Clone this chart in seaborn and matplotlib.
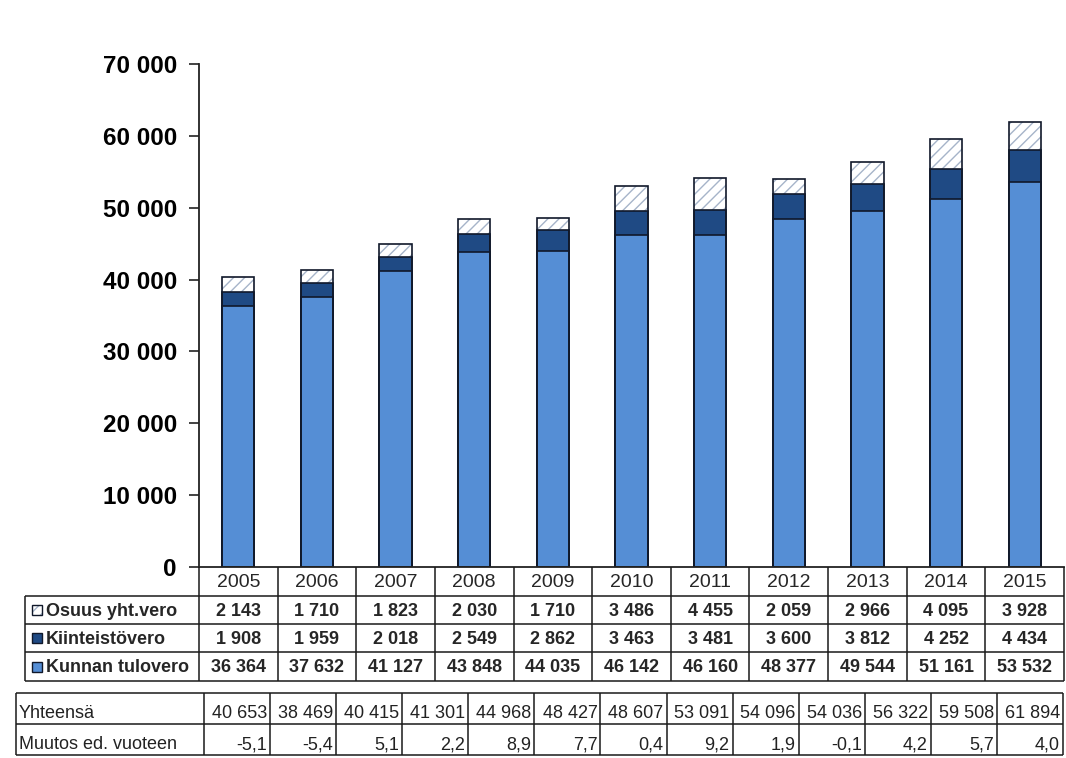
import numpy as np
import pandas as pd
import seaborn as sns
import matplotlib
matplotlib.use("Agg")
import matplotlib.pyplot as plt
from matplotlib.patches import Rectangle

# ---------------- data ----------------
years = ['2005', '2006', '2007', '2008', '2009', '2010', '2011', '2012', '2013', '2014', '2015']
osuus = [2143, 1710, 1823, 2030, 1710, 3486, 4455, 2059, 2966, 4095, 3928]
kiinteisto = [1908, 1959, 2018, 2549, 2862, 3463, 3481, 3600, 3812, 4252, 4434]
kunnan = [36364, 37632, 41127, 43848, 44035, 46142, 46160, 48377, 49544, 51161, 53532]
series_labels = ['Osuus yht.vero', 'Kiinteistövero', 'Kunnan tulovero']

yhteensa = [40653, 38469, 40415, 41301, 44968, 48427, 48607, 53091, 54096, 54036, 56322, 59508, 61894]
muutos = [-5.1, -5.4, 5.1, 2.2, 8.9, 7.7, 0.4, 9.2, 1.9, -0.1, 4.2, 5.7, 4.0]
table2_labels = ['Yhteensä', 'Muutos ed. vuoteen']
yticks = [0, 10000, 20000, 30000, 40000, 50000, 60000, 70000]

# ---------------- style ----------------
sns.set_theme(style="white")
plt.rcParams['font.family'] = ['Liberation Sans', 'DejaVu Sans']
plt.rcParams['hatch.linewidth'] = 1.0

LIGHT = '#558ED5'
DARK = '#1F4A84'
HATCH = '#A6B4C9'
EDGE = '#10182A'


def fmt(v):
    return f"{v:,}".replace(',', ' ')


def fmt_dec(v):
    return f"{v:.1f}".replace('.', ',')


W, H = 1066, 758
fig = plt.figure(figsize=(W / 100, H / 100), dpi=100)

AX_L, AX_R, AX_T, AX_B = 199, 1064, 64, 567
ax = fig.add_axes([AX_L / W, 1 - AX_B / H, (AX_R - AX_L) / W, (AX_B - AX_T) / H])

df = pd.DataFrame({'year': years, 'osuus': osuus, 'kiint': kiinteisto, 'kunnan': kunnan})
df['kk'] = df['kunnan'] + df['kiint']
df['total'] = df['kk'] + df['osuus']

bw = 0.41
sns.barplot(data=df, x='year', y='total', color='white', hatch='///', edgecolor=HATCH,
            linewidth=0, width=bw, errorbar=None, ax=ax)
n_hatch = len(ax.patches)
sns.barplot(data=df, x='year', y='kk', color=DARK, edgecolor=EDGE, linewidth=1.2,
            width=bw, errorbar=None, saturation=1, ax=ax)
sns.barplot(data=df, x='year', y='kunnan', color=LIGHT, edgecolor=EDGE, linewidth=1.2,
            width=bw, errorbar=None, saturation=1, ax=ax)
for p in list(ax.patches)[:n_hatch]:
    ax.add_patch(Rectangle(p.get_xy(), p.get_width(), p.get_height(),
                           facecolor='none', edgecolor=EDGE, linewidth=1.2))

ax.set_xlim(-0.5, len(years) - 0.5)
ax.set_ylim(0, 70000)
ax.set_yticks(yticks)
ax.set_yticklabels([fmt(t) for t in yticks], fontsize=17.5, fontweight='bold', color='black')
ax.set_xticks([])
ax.set_xlabel('')
ax.set_ylabel('')
ax.tick_params(axis='y', direction='out', length=7, width=1.2, color='#222222', pad=9, left=True)
for s in ['top', 'right']:
    ax.spines[s].set_visible(False)
for s in ['left', 'bottom']:
    ax.spines[s].set_color('#222222')
    ax.spines[s].set_linewidth(1.3)

# ---------------- tables (overlay in pixel coordinates) ----------------
tax = fig.add_axes([0, 0, 1, 1], zorder=5)
tax.set_xlim(0, W)
tax.set_ylim(H, 0)
tax.axis('off')
tax.patch.set_alpha(0)

LC = '#1a1a1a'
LW = 1.1

# table 1
ncol = len(years)
colw = (AX_R - AX_L) / ncol
cx = [AX_L + i * colw for i in range(ncol + 1)]
rows = [567, 596, 624, 652, 681]
T1L = 25
for y in rows[1:]:
    tax.hlines(y, T1L, AX_R, color=LC, lw=LW)
for x in cx:
    tax.vlines(x, rows[0], rows[-1], color=LC, lw=LW)
tax.vlines(T1L, rows[1], rows[-1], color=LC, lw=LW)

for i, yr in enumerate(years):
    xc = (cx[i] + cx[i + 1]) / 2
    tax.text(xc, (rows[0] + rows[1]) / 2 + 1, yr, ha='center', va='center', fontsize=14)
row_vals = [osuus, kiinteisto, kunnan]
for r, vals in enumerate(row_vals):
    yc = (rows[r + 1] + rows[r + 2]) / 2 + 1
    for i, v in enumerate(vals):
        xc = (cx[i] + cx[i + 1]) / 2
        tax.text(xc, yc, fmt(v), ha='center', va='center', fontsize=13, fontweight='bold')
    tax.text(46, yc, series_labels[r], ha='left', va='center', fontsize=13, fontweight='bold')

# legend keys
ky = [(rows[r + 1] + rows[r + 2]) / 2 for r in range(3)]
tax.add_patch(Rectangle((32, ky[0] - 5), 10, 10, facecolor='white', hatch='///',
                        edgecolor=HATCH, linewidth=0))
tax.add_patch(Rectangle((32, ky[0] - 5), 10, 10, facecolor='none', edgecolor=EDGE, linewidth=1))
tax.add_patch(Rectangle((32, ky[1] - 5), 10, 10, facecolor=DARK, edgecolor=EDGE, linewidth=1))
tax.add_patch(Rectangle((32, ky[2] - 5), 10, 10, facecolor=LIGHT, edgecolor=EDGE, linewidth=1))

# table 2
T2L, T2R, T2LC = 16, 1063, 204
r2 = [693, 724, 755]
n2 = len(yhteensa)
cw2 = (T2R - T2LC) / n2
cx2 = [T2LC + i * cw2 for i in range(n2 + 1)]
for y in r2:
    tax.hlines(y, T2L, T2R, color=LC, lw=LW)
tax.vlines(T2L, r2[0], r2[-1], color=LC, lw=LW)
for x in cx2:
    tax.vlines(x, r2[0], r2[-1], color=LC, lw=LW)

for r, lab in enumerate(table2_labels):
    tax.text(T2L + 3, r2[r + 1] - 2, lab, ha='left', va='bottom', fontsize=13, color='#222222')
for i in range(n2):
    tax.text(cx2[i + 1] - 3, r2[1] - 2, fmt(yhteensa[i]), ha='right', va='bottom',
             fontsize=13, color='#222222')
    tax.text(cx2[i + 1] - 3, r2[2] - 2, fmt_dec(muutos[i]), ha='right', va='bottom',
             fontsize=13, color='#222222')

fig.savefig('out.png', dpi=100)
